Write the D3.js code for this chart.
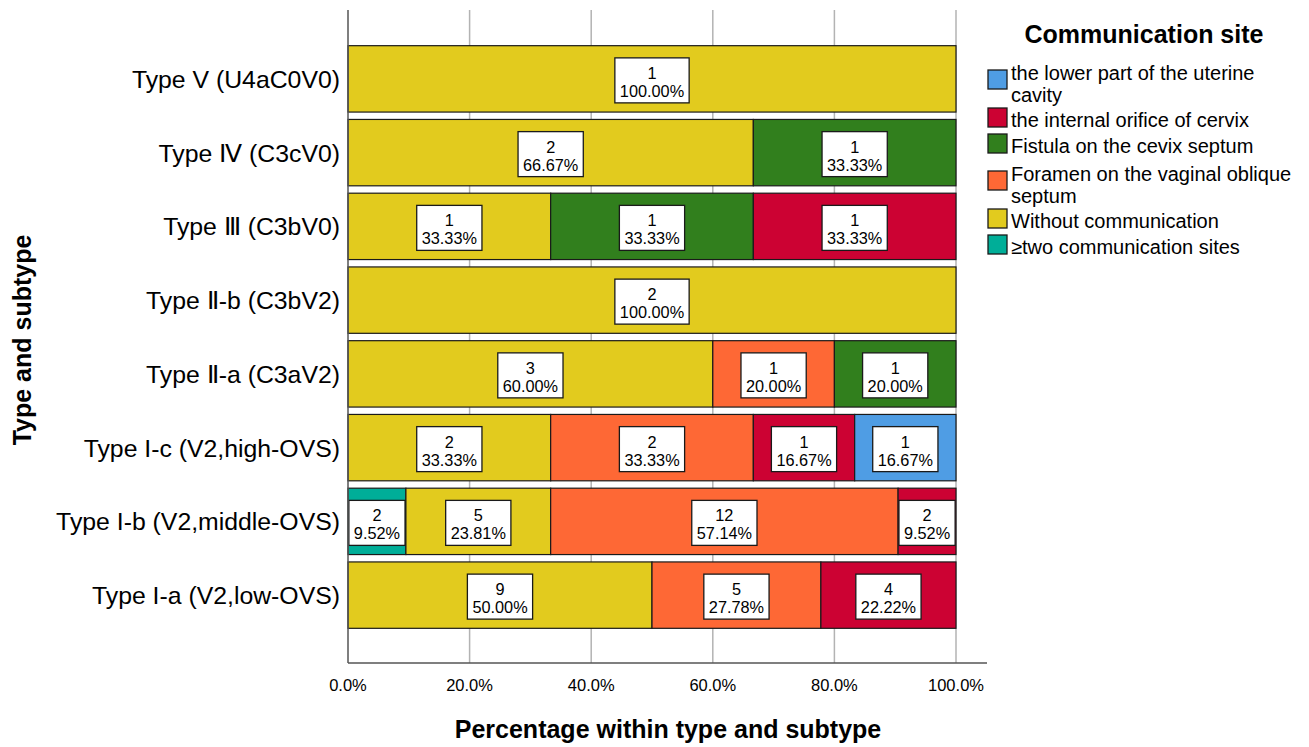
<!DOCTYPE html>
<html><head><meta charset="utf-8">
<script src="https://cdn.jsdelivr.net/npm/d3@7"></script>
<style>body{margin:0;background:#fff;font-family:"Liberation Sans",Arial,sans-serif;}</style>
</head><body><svg id="c" width="1309" height="747"></svg>
<script>
const categories = ["Type V (U4aC0V0)","Type Ⅳ (C3cV0)","Type Ⅲ (C3bV0)","Type Ⅱ-b (C3bV2)","Type Ⅱ-a (C3aV2)","Type I-c (V2,high-OVS)","Type I-b (V2,middle-OVS)","Type I-a (V2,low-OVS)"];
// stacking order left to right
const seriesKeys = ["two","without","foramen","fistula","internal","lower"];
const seriesNames = {lower:"the lower part of the uterine\ncavity", internal:"the internal orifice of cervix", fistula:"Fistula on the cevix septum", foramen:"Foramen on the vaginal oblique\nseptum", without:"Without communication", two:"≥two communication sites"};
const legendOrder = ["lower","internal","fistula","foramen","without","two"];
const colors = {lower:"#4f9de4", internal:"#cc0233", fistula:"#317f1d", foramen:"#fe6835", without:"#e2cb1e", two:"#00ae98"};
const two      = [0,0,0,0,0,0,2,0];
const without  = [1,2,1,2,3,2,5,9];
const foramen  = [0,0,0,0,1,2,12,5];
const fistula  = [0,1,1,0,1,0,0,0];
const internal = [0,0,1,0,0,1,2,4];
const lower    = [0,0,0,0,0,1,0,0];
const xTicks = [0,0.2,0.4,0.6,0.8,1.0];
const vals = {two,without,foramen,fistula,internal,lower};

const svg = d3.select("#c");
const x = d3.scaleLinear().domain([0,1]).range([348,956]);
const y = d3.scaleBand().domain(categories).range([42,632]).paddingInner(0.1).paddingOuter(0.05);

// grid
svg.append("g").selectAll("line").data(xTicks.slice(1)).join("line")
  .attr("x1",d=>x(d)).attr("x2",d=>x(d)).attr("y1",10).attr("y2",663)
  .attr("stroke","#b3b3b3").attr("stroke-width",1.5);

// data rows
const rows = categories.map((c,i)=>{
  const total = seriesKeys.reduce((s,k)=>s+vals[k][i],0);
  let acc=0; const segs=[];
  seriesKeys.forEach(k=>{const v=vals[k][i]; if(v>0){segs.push({cat:c,key:k,v,total,x0:acc/total,x1:(acc+v)/total}); acc+=v;}});
  return segs;
}).flat();

const g = svg.append("g");
g.selectAll("rect").data(rows).join("rect")
  .attr("x",d=>x(d.x0)).attr("width",d=>x(d.x1)-x(d.x0))
  .attr("y",d=>y(d.cat)).attr("height",y.bandwidth())
  .attr("fill",d=>colors[d.key]).attr("stroke","#1a1a1a").attr("stroke-width",1.2);

// labels
const lab = svg.append("g").selectAll("g").data(rows).join("g")
  .attr("transform",d=>`translate(${(x(d.x0)+x(d.x1))/2},${y(d.cat)+y.bandwidth()/2})`);
lab.each(function(d){
  const gg=d3.select(this);
  const t=gg.append("text").attr("text-anchor","middle").attr("font-size",16.3).attr("fill","#000");
  t.append("tspan").attr("x",0).attr("y",0).text(d.v);
  t.append("tspan").attr("x",0).attr("y",18).text((d.v/d.total*100).toFixed(2)+"%");
  const bb=t.node().getBBox();
  const w=bb.width+10;
  gg.insert("rect","text").attr("x",-w/2).attr("y",-21).attr("width",w).attr("height",45)
    .attr("fill","#fff").attr("stroke","#1a1a1a").attr("stroke-width",1.3);
});

// axes
svg.append("line").attr("x1",348).attr("x2",348).attr("y1",10).attr("y2",663).attr("stroke","#555").attr("stroke-width",1.5);
svg.append("line").attr("x1",348).attr("x2",987).attr("y1",663).attr("y2",663).attr("stroke","#555").attr("stroke-width",1.5);

svg.append("g").selectAll("text").data(xTicks).join("text")
  .attr("x",d=>x(d)).attr("y",691).attr("text-anchor","middle").attr("font-size",16.5)
  .text(d=>(d*100).toFixed(1)+"%");

svg.append("g").selectAll("text").data(categories).join("text")
  .attr("x",340).attr("y",d=>y(d)+y.bandwidth()/2+9).attr("text-anchor","end").attr("font-size",24.8)
  .text(d=>d);

svg.append("text").attr("x",668).attr("y",738).attr("text-anchor","middle").attr("font-size",25).attr("font-weight","bold").text("Percentage within type and subtype");
svg.append("text").attr("transform","translate(31,340) rotate(-90)").attr("text-anchor","middle").attr("font-size",25).attr("font-weight","bold").text("Type and subtype");

// legend
svg.append("text").attr("x",1144).attr("y",43).attr("text-anchor","middle").attr("font-size",25).attr("font-weight","bold").text("Communication site");
const legY = {lower:70, internal:108, fistula:134, foramen:171, without:209, two:235};
const lg = svg.append("g").selectAll("g").data(legendOrder).join("g").attr("transform",d=>`translate(988,${legY[d]})`);
lg.append("rect").attr("width",19).attr("height",19).attr("fill",d=>colors[d]).attr("stroke","#1a1a1a").attr("stroke-width",1.3);
lg.each(function(d){
  const lines=seriesNames[d].split("\n");
  const multi=lines.length>1;
  const t=d3.select(this).append("text").attr("font-size",20).attr("fill","#000");
  lines.forEach((l,i)=>t.append("tspan").attr("x",23).attr("y",(multi?10:19)+i*21.5).text(l));
});
</script></body></html>
